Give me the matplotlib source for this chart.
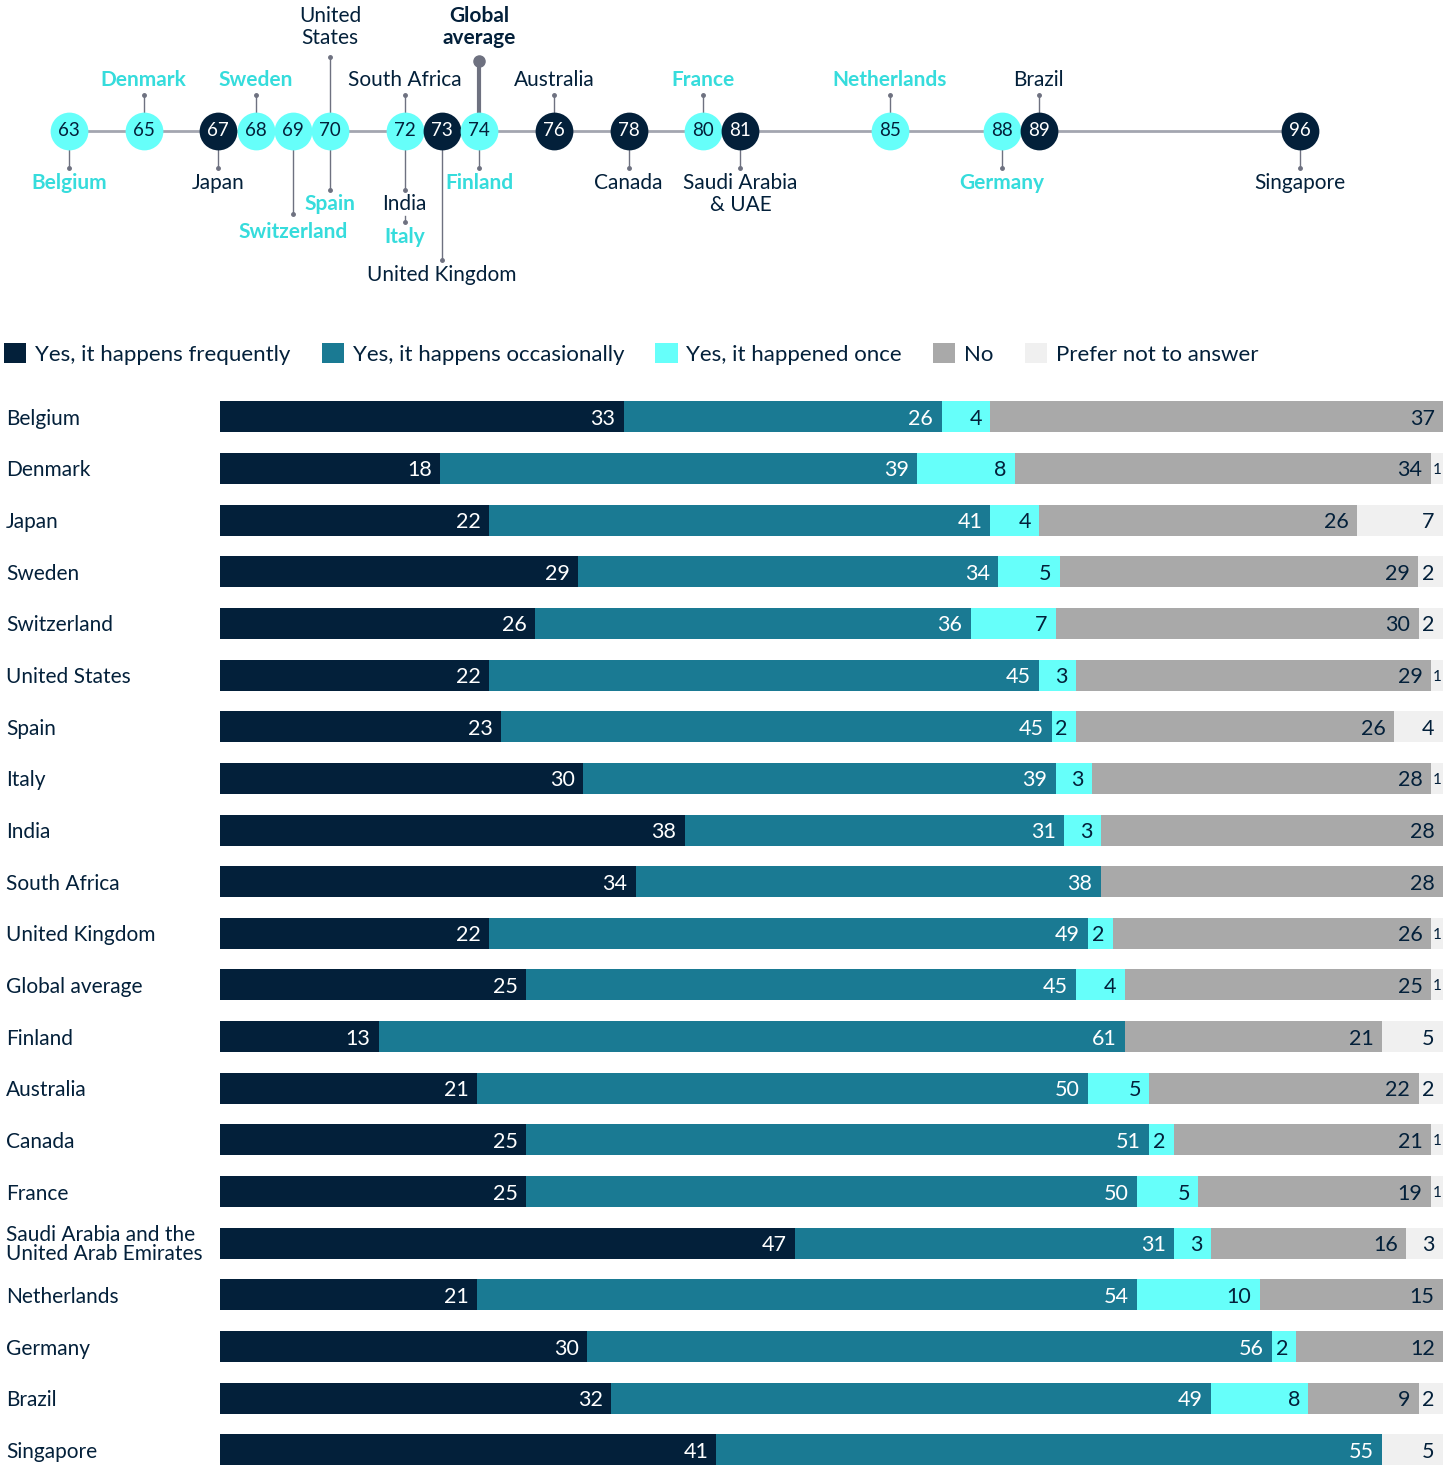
import matplotlib
matplotlib.use('Agg')
import matplotlib.pyplot as plt
import numpy as np
from matplotlib.patches import Patch
from matplotlib.transforms import blended_transform_factory

plt.rcParams['font.family'] = ['Lato', 'DejaVu Sans']

# ---------------- data ----------------
countries = ["Belgium", "Denmark", "Japan", "Sweden", "Switzerland", "United States",
             "Spain", "Italy", "India", "South Africa", "United Kingdom", "Global average",
             "Finland", "Australia", "Canada", "France",
             "Saudi Arabia and the\nUnited Arab Emirates", "Netherlands", "Germany",
             "Brazil", "Singapore"]
frequent = [33, 18, 22, 29, 26, 22, 23, 30, 38, 34, 22, 25, 13, 21, 25, 25, 47, 21, 30, 32, 41]
occasional = [26, 39, 41, 34, 36, 45, 45, 39, 31, 38, 49, 45, 61, 50, 51, 50, 31, 54, 56, 49, 55]
once = [4, 8, 4, 5, 7, 3, 2, 3, 3, 0, 2, 4, 0, 5, 2, 5, 3, 10, 2, 8, 0]
no = [37, 34, 26, 29, 30, 29, 26, 28, 28, 28, 26, 25, 21, 22, 21, 19, 16, 15, 12, 9, 0]
prefer = [0, 1, 7, 2, 2, 1, 4, 1, 0, 0, 1, 1, 5, 2, 1, 1, 3, 0, 0, 2, 5]
series_names = ["Yes, it happens frequently", "Yes, it happens occasionally",
                "Yes, it happened once", "No", "Prefer not to answer"]

tl_names = ["Belgium", "Denmark", "Japan", "Sweden", "Switzerland", "United\nStates", "Spain",
            "South Africa", "India", "Italy", "United Kingdom", "Global\naverage", "Finland",
            "Australia", "Canada", "France", "Saudi Arabia\n& UAE", "Netherlands", "Germany",
            "Brazil", "Singapore"]
tl_scores = [63, 65, 67, 68, 69, 70, 70, 72, 72, 72, 73, 74, 74, 76, 78, 80, 81, 85, 88, 89, 96]
tl_highlight = ["Belgium", "Denmark", "Sweden", "Switzerland", "Spain", "Italy", "Finland",
                "France", "Netherlands", "Germany"]

# ---------------- style ----------------
NAVY = '#03203A'
TEAL = '#1A7A93'
CYAN = '#66FFFA'
GREY = '#A9A9A9'
LIGHT = '#F0F0F0'
CYAN_TXT = '#36DCDC'
LINE = '#6E7180'
colors = [NAVY, TEAL, CYAN, GREY, LIGHT]
txt_colors = ['white', 'white', NAVY, NAVY, NAVY]

W, H = 1447, 1465
fig = plt.figure(figsize=(W / 100, H / 100), dpi=100)

# ---------------- stacked bars ----------------
top_px = 391
ax = fig.add_axes([220 / W, 0, 1223 / W, (H - top_px) / H])
data = np.array([frequent, occasional, once, no, prefer], float).T
pct = data / data.sum(axis=1, keepdims=True) * 100
y = np.arange(len(countries))
left = np.zeros(len(countries))
for j in range(5):
    ax.barh(y, pct[:, j], left=left, height=0.6, color=colors[j], linewidth=0)
    for i in range(len(countries)):
        v = data[i, j]
        if v <= 0:
            continue
        if v <= 1:
            ax.annotate(f'{int(v)}', (left[i] + pct[i, j] / 2, y[i]), ha='center',
                        va='center_baseline', fontsize=11, color=txt_colors[j])
        else:
            ax.annotate(f'{int(v)}', (left[i] + pct[i, j], y[i]), xytext=(-6, 0),
                        textcoords='offset points', ha='right', va='center_baseline',
                        fontsize=15.5, color=txt_colors[j])
    left += pct[:, j]
ax.set_xlim(0, 100)
spacing = 51.65
units = (H - top_px) / spacing
ax.set_ylim(-0.5 + units, -0.5)
ax.axis('off')

trans = blended_transform_factory(fig.transFigure, ax.transData)
for i, name in enumerate(countries):
    ax.text(6 / W, i, name, transform=trans, ha='left', va='center_baseline', fontsize=15,
            color=NAVY, linespacing=0.95)

# ---------------- legend ----------------
handles = [Patch(facecolor=c, edgecolor='none', label=n) for c, n in zip(colors, series_names)]
fig.legend(handles=handles, loc='center left', bbox_to_anchor=(4 / W, 1 - 354 / H), ncol=5,
           frameon=False, fontsize=16, handlelength=1.0, handleheight=1.0,
           handletextpad=0.4, columnspacing=1.4, borderpad=0, borderaxespad=0,
           labelcolor=NAVY)

# ---------------- timeline ----------------
axt = fig.add_axes([0, 1 - 300 / H, 1, 300 / H])
px_per_unit = 37.3
x0 = 63 - 69 / px_per_unit
axt.set_xlim(x0, x0 + W / px_per_unit)
axt.set_ylim(300, 0)
axt.axis('off')

axt.plot([min(tl_scores), max(tl_scores)], [131, 131], color='#A3A6B0', lw=2, zorder=1)

# label layout: (text y, line end y, line start y)
layout = {
    "Belgium": (183, 168, 131), "Denmark": (80, 95, 131), "Japan": (183, 168, 131),
    "Sweden": (80, 95, 131), "Switzerland": (232, 214, 131), "United\nStates": (27, 57, 131),
    "Spain": (204, 190, 131), "South Africa": (80, 95, 131), "India": (204, 190, 131),
    "Italy": (237, 222, 216), "United Kingdom": (275, 260, 131),
    "Global\naverage": (27, 61, 131), "Finland": (183, 168, 131),
    "Australia": (80, 95, 131), "Canada": (183, 168, 131), "France": (80, 95, 131),
    "Saudi Arabia\n& UAE": (194, 168, 131), "Netherlands": (80, 95, 131),
    "Germany": (183, 168, 131), "Brazil": (80, 95, 131), "Singapore": (183, 168, 131),
}

for name, sc in zip(tl_names, tl_scores):
    ty, ly, ls = layout[name]
    if name == "Global\naverage":
        axt.plot([sc, sc], [ls, ly], color=LINE, lw=3, zorder=2)
        axt.plot([sc], [ly], marker='o', ms=8, color=LINE, zorder=2)
        axt.text(sc, ty, name, ha='center', va='center', fontsize=15, fontweight='bold',
                 color=NAVY, linespacing=1.15)
        continue
    axt.plot([sc, sc], [ls, ly], color=LINE, lw=1, zorder=2)
    axt.plot([sc], [ly], marker='o', ms=2.5, color=LINE, zorder=2)
    hl = name in tl_highlight
    axt.text(sc, ty, name, ha='center', va='center', fontsize=15,
             fontweight='bold' if hl else 'normal', color=CYAN_TXT if hl else NAVY,
             linespacing=1.15)

uniq = sorted(set(tl_scores))
for sc in uniq:
    hl = any(n in tl_highlight for n, s in zip(tl_names, tl_scores) if s == sc)
    fc = CYAN if hl else NAVY
    axt.scatter([sc], [131], s=740, color=fc, zorder=3, linewidths=0)
    axt.text(sc, 131, f'{sc}', ha='center', va='center', fontsize=13.5,
             color=NAVY if hl else 'white', zorder=4)

fig.savefig('out.png', dpi=100)
